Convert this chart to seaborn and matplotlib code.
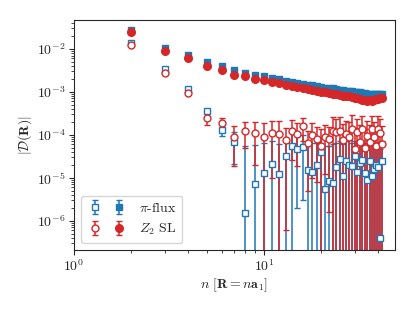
import numpy as np
import matplotlib
matplotlib.use("Agg")
import matplotlib.pyplot as plt
import seaborn as sns
from matplotlib.legend_handler import HandlerTuple

# separation n along a1
n = list(range(2, 43))

# |D(R)| full (filled markers)
pi_full = [2.8e-2, 1.05e-2, 7.2e-3, 4.9e-3, 3.9e-3, 3.2e-3, 2.75e-3, 2.5e-3, 2.3e-3, 2.1e-3,
           1.95e-3, 1.8e-3, 1.7e-3, 1.62e-3, 1.55e-3, 1.48e-3, 1.41e-3, 1.35e-3, 1.32e-3, 1.26e-3,
           1.23e-3, 1.2e-3, 1.17e-3, 1.12e-3, 1.1e-3, 1.07e-3, 1.05e-3, 1.02e-3, 1.0e-3, 0.99e-3,
           0.98e-3, 0.95e-3, 0.93e-3, 0.91e-3, 0.9e-3, 0.89e-3, 0.88e-3, 0.87e-3, 0.87e-3, 0.87e-3,
           0.87e-3]
z2_full = [2.5e-2, 8.7e-3, 6.2e-3, 3.9e-3, 3.3e-3, 2.5e-3, 2.3e-3, 2.0e-3, 1.86e-3, 1.66e-3,
           1.58e-3, 1.45e-3, 1.38e-3, 1.29e-3, 1.23e-3, 1.17e-3, 1.1e-3, 1.07e-3, 1.0e-3, 0.98e-3,
           0.93e-3, 0.91e-3, 0.87e-3, 0.85e-3, 0.81e-3, 0.79e-3, 0.78e-3, 0.76e-3, 0.72e-3, 0.71e-3,
           0.68e-3, 0.66e-3, 0.63e-3, 0.62e-3, 0.65e-3, 0.62e-3, 0.65e-3, 0.68e-3, 0.69e-3, 0.71e-3,
           0.72e-3]
full_err = 1e-6

# connected part (open markers) with error bars
pi_conn = [1.35e-2, 3.4e-3, 1.15e-3, 3.6e-4, 1.29e-4, 6.8e-5, 1.5e-6, 7.2e-6, 1.3e-5, 2.1e-5,
           1.23e-5, 3.2e-5, 5.6e-5, 4.8e-5, 5.2e-5, 1.5e-5, 1.4e-5, 2.0e-5, 4.0e-5, 5.6e-6,
           8.5e-6, 7.6e-6, 1.8e-5, 2.8e-5, 1.1e-5, 2.5e-5, 2.0e-5, 1.9e-5, 3.2e-5, 1.4e-5,
           2.2e-5, 2.6e-5, 1.26e-5, 8.9e-6, 2.4e-5, 1.1e-5, 1.6e-5, 2.0e-5, 1.8e-5, 4.0e-7,
           2.5e-5]
pi_conn_err = [1e-4, 3e-5, 1e-5, 3e-5, 3.7e-5, 4.7e-5, 5.3e-5, 5.0e-5, 5.0e-5, 5.2e-5,
               4.8e-5, 4.5e-5, 6.0e-5, 4.6e-5, 4.9e-5, 4.2e-5, 5.0e-5, 4.4e-5, 4.5e-5, 5.0e-5,
               4.6e-5, 5.2e-5, 4.8e-5, 4.2e-5, 5.0e-5, 4.6e-5, 5.4e-5, 4.4e-5, 4.0e-5, 5.0e-5,
               4.8e-5, 4.4e-5, 5.2e-5, 4.6e-5, 4.2e-5, 5.0e-5, 4.8e-5, 4.4e-5, 5.0e-5, 4.6e-5,
               4.5e-5]
z2_conn = [1.23e-2, 2.7e-3, 9.5e-4, 2.4e-4, 1.9e-4, 9.1e-5, 1.23e-4, 1.1e-4, 8.9e-5, 1.1e-4,
           1.05e-4, 7.4e-5, 1.26e-4, 1.05e-4, 1.6e-4, 6.5e-5, 1.0e-4, 7.8e-5, 5.5e-5, 9.1e-5,
           7.8e-5, 1.26e-4, 1.15e-4, 1.26e-4, 7.4e-5, 1.05e-4, 8.9e-5, 1.4e-4, 4.6e-5, 1.15e-4,
           6.8e-5, 1.38e-4, 4.9e-5, 9.5e-5, 6.8e-5, 1.38e-4, 8.9e-5, 5.5e-5, 1.38e-4, 1.1e-4,
           6.2e-5]
z2_conn_err = [1e-4, 3e-5, 1e-5, 7.5e-5, 6e-5, 7.2e-5, 7.3e-5, 9e-5, 1.0e-4, 1.0e-4,
               1.1e-4, 7.34e-5, 1.0e-4, 8.6e-5, 9e-5, 6e-5, 9e-5, 7e-5, 8e-5, 7.9e-5,
               7.64e-5, 1.3e-4, 1.2e-4, 1.3e-4, 1.0e-4, 1.1e-4, 1.1e-4, 1.45e-4, 1.0e-4, 1.2e-4,
               1.0e-4, 1.4e-4, 9e-5, 1.1e-4, 1.0e-4, 1.4e-4, 1.1e-4, 1.0e-4, 1.4e-4, 1.2e-4,
               1.0e-4]

sns.set_style("ticks")
plt.rcParams["font.family"] = "serif"
plt.rcParams["font.serif"] = ["cmr10", "DejaVu Serif"]
plt.rcParams["mathtext.fontset"] = "cm"
plt.rcParams["axes.formatter.use_mathtext"] = True
plt.rcParams["font.size"] = 10
plt.rcParams["xtick.major.pad"] = 2.5
plt.rcParams["ytick.major.pad"] = 2.5

pal = sns.color_palette("tab10")
blue, red = pal[0], pal[3]

fig = plt.figure(figsize=(4.15, 3.12), dpi=100)
ax = fig.add_axes([0.178, 0.199, 0.774, 0.737])

kw = dict(ls="none", capsize=2.5, elinewidth=1.1, capthick=1.0, mew=1.0)
h_pi_o = ax.errorbar(n, pi_conn, yerr=pi_conn_err, fmt="s", ms=4.5, color=blue,
                     mfc="white", mec=blue, **kw)
h_z2_o = ax.errorbar(n, z2_conn, yerr=z2_conn_err, fmt="o", ms=5, color=red,
                     mfc="white", mec=red, **kw)
h_pi_f = ax.errorbar(n, pi_full, yerr=full_err, fmt="s", ms=5, color=blue, **kw)
h_z2_f = ax.errorbar(n, z2_full, yerr=full_err, fmt="o", ms=5.5, color=red, **kw)

ax.set_xscale("log")
ax.set_yscale("log")
ax.set_xlim(1, 49)
ax.set_ylim(2.1e-7, 4.7e-2)
ax.set_xlabel(r"$n\ [\mathbf{R} = n\mathbf{a}_1]$", labelpad=2)
ax.set_ylabel(r"$|\mathcal{D}(\mathbf{R})|$", labelpad=2)

ax.legend([(h_pi_o, h_pi_f), (h_z2_o, h_z2_f)], [r"$\pi$-flux", r"$Z_2$ SL"],
          handler_map={tuple: HandlerTuple(ndivide=None)}, loc="lower left",
          handlelength=3.0)

fig.savefig("out.png", dpi=100)
